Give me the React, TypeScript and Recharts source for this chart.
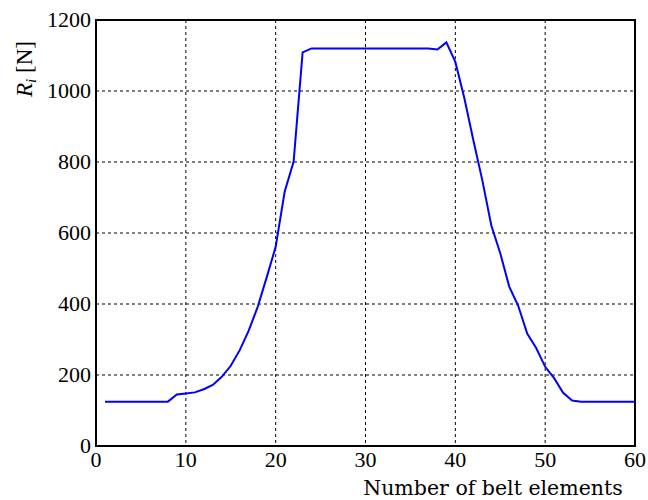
import React from 'react';
import {
  LineChart,
  Line,
  XAxis,
  YAxis,
  CartesianGrid,
  ReferenceArea,
} from 'recharts';

const elements = [
  1, 2, 3, 4, 5, 6, 7, 8, 9, 10, 11, 12, 13, 14, 15, 16, 17, 18, 19, 20,
  21, 22, 23, 24, 25, 26, 27, 28, 29, 30, 31, 32, 33, 34, 35, 36, 37, 38, 39, 40,
  41, 42, 43, 44, 45, 46, 47, 48, 49, 50, 51, 52, 53, 54, 55, 56, 57, 58, 59, 60,
];

const forces = [
  125, 125, 125, 125, 125, 125, 125, 125, 145, 148, 151, 160, 172, 195, 226, 270, 325, 392, 475, 561,
  716, 801, 1109, 1120, 1120, 1120, 1120, 1120, 1120, 1120, 1120, 1120, 1120, 1120, 1120, 1120, 1120, 1117, 1137, 1082,
  980, 862, 749, 622, 543, 449, 395, 317, 276, 223, 191, 150, 128, 125, 125, 125, 125, 125, 125, 125,
];

const xTicks = [0, 10, 20, 30, 40, 50, 60];
const yTicks = [0, 200, 400, 600, 800, 1000, 1200];

const data = elements.map((n, i) => ({ n, r: forces[i] }));

const TICK_FONT = 'Liberation Serif';
const LABEL_FONT = 'DejaVu Serif';

const XTick = (props: any) => {
  const { x, y, payload } = props;
  return (
    <text
      x={x}
      y={y + 21}
      textAnchor="middle"
      style={{ fontFamily: TICK_FONT, fontSize: 22 }}
      fill="#000"
    >
      {payload.value}
    </text>
  );
};

const YTick = (props: any) => {
  const { x, y, payload } = props;
  return (
    <text
      x={x}
      y={y + 7}
      textAnchor="end"
      style={{ fontFamily: TICK_FONT, fontSize: 22 }}
      fill="#000"
    >
      {payload.value}
    </text>
  );
};

const XLabel = (props: any) => {
  const { viewBox } = props;
  return (
    <text
      x={viewBox.x + viewBox.width - 142}
      y={viewBox.y + 49}
      textAnchor="middle"
      style={{ fontFamily: LABEL_FONT, fontSize: 20.5 }}
      fill="#000"
    >
      Number of belt elements
    </text>
  );
};

const YLabel = (props: any) => {
  const { viewBox } = props;
  const cx = 32;
  const cy = viewBox.y + 49;
  return (
    <text
      x={cx}
      y={cy}
      transform={`rotate(-90 ${cx} ${cy})`}
      textAnchor="middle"
      style={{ fontFamily: TICK_FONT, fontSize: 23 }}
      fill="#000"
    >
      <tspan fontStyle="italic">R</tspan>
      <tspan fontStyle="italic" fontSize={15} dy={4}>i</tspan>
      <tspan dy={-4}> [N]</tspan>
    </text>
  );
};

export default function App() {
  return (
    <div style={{ position: 'absolute', left: 0, top: 0, background: '#fff', fontFamily: TICK_FONT }}>
      <LineChart
        width={648}
        height={500}
        data={data}
        margin={{ top: 20, right: 13, bottom: 0, left: 0 }}
      >
        <CartesianGrid
          stroke="#000"
          strokeDasharray="3 3"
          strokeWidth={1}
          horizontalValues={[200, 400, 600, 800, 1000]}
          verticalValues={[10, 20, 30, 40, 50]}
        />
        <XAxis
          dataKey="n"
          type="number"
          domain={[0, 60]}
          ticks={xTicks}
          interval={0}
          height={54}
          axisLine={false}
          tickLine={false}
          tickSize={0}
          tickMargin={0}
          tick={<XTick />}
          label={<XLabel />}
        />
        <YAxis
          type="number"
          domain={[0, 1200]}
          ticks={yTicks}
          interval={0}
          width={96}
          axisLine={false}
          tickLine={false}
          tickSize={0}
          tickMargin={5}
          tick={<YTick />}
          label={<YLabel />}
        />
        <ReferenceArea
          x1={0}
          x2={60}
          y1={0}
          y2={1200}
          fill="none"
          fillOpacity={0}
          stroke="#000"
          strokeWidth={2}
        />
        <Line
          type="linear"
          dataKey="r"
          stroke="#0000ff"
          strokeWidth={2}
          dot={false}
          isAnimationActive={false}
        />
      </LineChart>
    </div>
  );
}
